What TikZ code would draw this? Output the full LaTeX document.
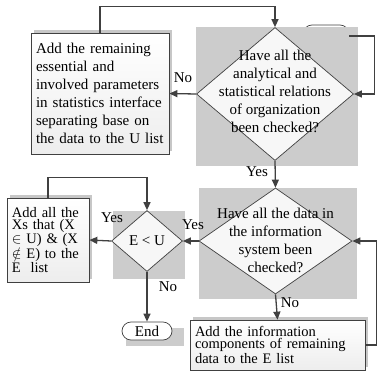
\documentclass[tikz,border=0pt]{standalone}
\usepackage{fontspec}
\setmainfont{Liberation Serif}
\usetikzlibrary{arrows.meta}
\usetikzlibrary{shapes.geometric}
\usetikzlibrary{shadows}
\colorlet{linecol}{black!75}
\colorlet{backcol}{black!20}
\colorlet{diacol}{black!3}
\tikzset{>={Triangle[length=8,width=7]}}
\tikzstyle{flow}=[linecol,line width=1.3,->]
\tikzstyle{procbox}=[draw=linecol,line width=0.7,top color=white,bottom color=black!7,
                     inner sep=5,align=left,
                     drop shadow={shadow xshift=3,shadow yshift=-3,fill=black!22,opacity=1}]
\tikzstyle{test}=[diamond,draw=linecol,line width=0.7,fill=diacol,inner sep=0]
\tikzstyle{term}=[draw=linecol,line width=0.7,fill=white,rounded corners=9,inner sep=0]
\tikzstyle{lbl}=[inner sep=0]

\begin{document}
\begin{tikzpicture}[x=1pt,y=-1pt,font=\fontsize{15}{18}\selectfont]
  \useasboundingbox (0,0) rectangle (379,381);

  % START
  \node[term,minimum width=46,minimum height=22] (start) at (326,36) {};

  % BACKGROUNDS
  \fill[backcol] (196,27) rectangle (358,166);
  \fill[backcol] (199,188) rectangle (357,299);
  \fill[backcol] (113,211) rectangle (185,279);
  \fill[backcol] (126,328) rectangle (184,346);

  % DECISIONS
  \node[test,minimum width=157,minimum height=133] (q1) at (275,94) {};
  \node[align=center] (t1) at (275,91) {Have all the\\analytical and\\statistical relations\\of organization\\been checked?};
  \node[test,minimum width=153,minimum height=106] (q2) at (275.5,241) {};
  \node[align=center] (t2) at (275.5,240) {Have all the data in\\the information\\system been\\checked?};
  \node[test,minimum width=71,minimum height=61] (q3) at (147,241) {};
  \node (t3) at (147,241) {E < U};

  % PROCESSES
  \node[procbox,minimum width=138,minimum height=121,text width=128] (addU) at (100,93.5)
    {Add the remaining\\essential and\\involved parameters\\in statistics interface\\separating base on\\the data to the U list};
  \node[procbox,minimum width=80,minimum height=84,text width=72,
        font=\fontsize{14.5}{12.5}\selectfont] (addX) at (48,240)
    {Add all the\\Xs that (X\\$\in$ U) \& (X\\$\notin$ E) to the\\E\ \ list};
  \node[procbox,minimum width=175,minimum height=50,text width=165,
        font=\fontsize{14.5}{12}\selectfont] (addE) at (277.5,345)
    {Add the information\\components of remaining\\data to the E list};
  \node[term,minimum width=50,minimum height=18] (end) at (147,331) {End};

  % CONNECTORS
  \draw[flow] (start.east) -- ++(25,0) |- (q1.east);
  \draw[flow] (q1.west) -- (addU.east);
  \draw[flow] (addU.north) -- ++(0,-26) -| (q1.north);
  \draw[flow] (q1.south) -- (q2.north);
  \draw[flow] (q2.south) -- (addE.north);
  \draw[flow] (addE.east) -- ++(11,0) |- (q2.east);
  \draw[flow] (q2.west) -- (q3.east);
  \draw[flow] (q3.west) -- (addX.east);
  \draw[flow] (addX.north) -- ++(0,-20) -| (q3.north);
  \draw[flow] (q3.south) -- (end.north);

  % LABELS
  \node[lbl] (no1) at (183,78) {No};
  \node[lbl] (yes1) at (257,172) {Yes};
  \node[lbl] (no2) at (290,303) {No};
  \node[lbl] (yes2) at (193,225) {Yes};
  \node[lbl] (yes3) at (112,218) {Yes};
  \node[lbl] (no3) at (168,287) {No};
\end{tikzpicture}
\end{document}
